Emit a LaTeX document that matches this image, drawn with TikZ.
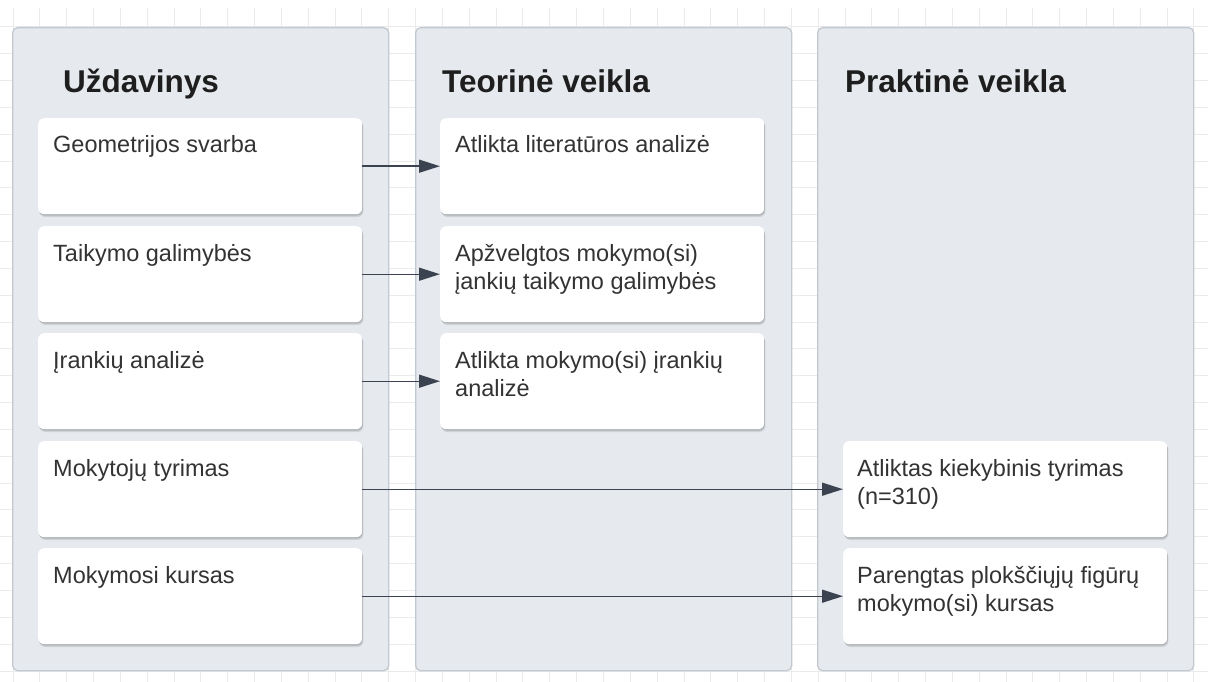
\documentclass[tikz,border=0pt]{standalone}
\usepackage{fontspec}
\setmainfont{Liberation Sans}
\usetikzlibrary{arrows.meta,shadows}

\definecolor{gridline}{HTML}{EBEBEB}
\definecolor{panelfill}{HTML}{E6E9EE}
\definecolor{paneledge}{HTML}{C3C9D1}
\definecolor{inktext}{HTML}{333333}
\definecolor{inktitle}{HTML}{1E1E1E}
\definecolor{flow}{HTML}{3C4350}

\tikzset{
  lane/.style={draw=paneledge, line width=1.3pt, fill=panelfill, rounded corners=5pt,
    minimum width=376pt, minimum height=643pt, inner sep=0pt, anchor=north west},
  card/.style={fill=white, rounded corners=6pt, minimum width=324pt, minimum height=96pt,
    inner sep=0pt, anchor=north west,
    drop shadow={opacity=0.10, shadow xshift=1.2pt, shadow yshift=-2.8pt, fill=black},
    drop shadow={opacity=0.14, shadow xshift=0.6pt, shadow yshift=-1.4pt, fill=black}},
  cardtext/.style={anchor=base west, inner sep=0pt, align=left, text=inktext,
    font=\fontsize{23.5}{28.5}\selectfont},
  lanetitle/.style={anchor=base west, inner sep=0pt, text=inktitle,
    font=\fontsize{31.5}{36}\selectfont\bfseries},
  flowarrow/.style={draw=flow, line width=1.4pt, -{Triangle[length=21pt,width=13pt]}},
}

\begin{document}
\begin{tikzpicture}[x=1pt,y=-1pt]
\useasboundingbox (0,0) rectangle (1208,682);
\fill[white] (0,0) rectangle (1208,682);

% background grid
\foreach \k in {0,...,44}
  \draw[gridline, line width=1pt] ({13+26.84*\k},8) -- ({13+26.84*\k},682);
\foreach \k in {1,...,25}
  \draw[gridline, line width=1pt] (0,{26.84*\k}) -- (1208,{26.84*\k});

% swimlanes
\node[lane] (lane1) at (12,27) {};
\node[lane] (lane2) at (415,27) {};
\node[lane] (lane3) at (817,27) {};

\node[lanetitle] (h1) at (63,93) {Uždavinys};
\node[lanetitle] (h2) at (442,93) {Teorinė veikla};
\node[lanetitle] (h3) at (845,93) {Praktinė veikla};

% tasks
\node[card] (u1) at (38,118) {};
\node[card] (u2) at (38,226) {};
\node[card] (u3) at (38,333) {};
\node[card] (u4) at (38,441) {};
\node[card] (u5) at (38,548) {};

\node[cardtext] (u1t) at ([shift={(15,35)}]u1.north west) {Geometrijos svarba};
\node[cardtext] (u2t) at ([shift={(15,35)}]u2.north west) {Taikymo galimybės};
\node[cardtext] (u3t) at ([shift={(15,35)}]u3.north west) {Įrankių analizė};
\node[cardtext] (u4t) at ([shift={(15,35)}]u4.north west) {Mokytojų tyrimas};
\node[cardtext] (u5t) at ([shift={(15,35)}]u5.north west) {Mokymosi kursas};

% theoretical work (two-line labels sit on the baseline of their last line)
\node[card] (t1) at (440,118) {};
\node[card] (t2) at (440,226) {};
\node[card] (t3) at (440,333) {};

\node[cardtext] (t1t) at ([shift={(15,35)}]t1.north west) {Atlikta literatūros analizė};
\node[cardtext] (t2t) at ([shift={(15,63.5)}]t2.north west) {Apžvelgtos mokymo(si)\\įankių taikymo galimybės};
\node[cardtext] (t3t) at ([shift={(15,63.5)}]t3.north west) {Atlikta mokymo(si) įrankių\\analizė};

% practical work
\node[card] (p4) at (843,441) {};
\node[card] (p5) at (843,548) {};

\node[cardtext] (p4t) at ([shift={(14,63.5)}]p4.north west) {Atliktas kiekybinis tyrimas\\(n=310)};
\node[cardtext] (p5t) at ([shift={(14,63.5)}]p5.north west) {Parengtas plokščiųjų figūrų\\mokymo(si) kursas};

% connectors
\draw[flowarrow] (u1.east) -- (t1.west);
\draw[flowarrow] (u2.east) -- (t2.west);
\draw[flowarrow] (u3.east) -- (t3.west);
\draw[flowarrow] (u4.east) -- (p4.west);
\draw[flowarrow] (u5.east) -- (p5.west);
\end{tikzpicture}
\end{document}
